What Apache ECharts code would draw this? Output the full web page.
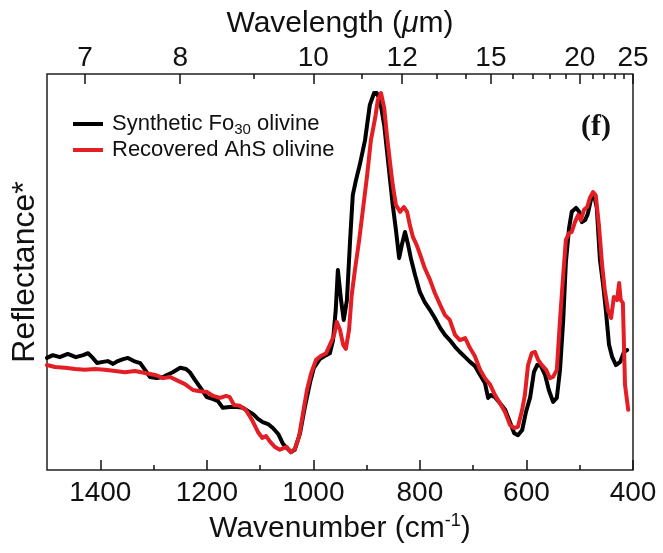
<!DOCTYPE html>
<html>
<head>
<meta charset="utf-8">
<script src="https://cdn.jsdelivr.net/npm/echarts@6/dist/echarts.min.js"></script>
<style>
  html, body { margin: 0; padding: 0; background: #fff; }
  #chart { width: 663px; height: 553px; }
</style>
</head>
<body>
<div id="chart"></div>
<script>
// Wavenumber axis ticks (cm-1), bottom
const wavenumberTicks = [400, 600, 800, 1000, 1200, 1400];
const wavenumberMinorTicks = [500, 700, 900, 1100, 1300];
// Wavelength axis ticks (um), top
const wavelengthTicks = [7, 8, 10, 12, 15, 20, 25];
const wavelengthMinorTicks = [9, 11, 13, 14, 16, 17, 18, 19, 21, 22, 23, 24];

const seriesNames = ['Synthetic Fo30 olivine', 'Recovered AhS olivine'];

// [wavenumber, reflectance (arbitrary units)]
const synthetic = [
  [1500, 28.3], [1489, 29.0], [1476, 28.5], [1461, 29.3], [1446, 28.5], [1432, 29.0],
  [1423, 29.5], [1414, 28.3], [1406, 27.0], [1395, 27.3], [1386, 27.5], [1376, 26.8],
  [1367, 27.5], [1357, 28.0], [1348, 28.3], [1337, 27.5], [1325, 27.0], [1316, 25.3],
  [1307, 23.5], [1294, 23.2], [1282, 23.5], [1275, 24.0], [1264, 24.7], [1250, 25.8],
  [1239, 25.5], [1232, 24.7], [1222, 22.7], [1213, 21.0], [1200, 18.4], [1188, 17.9],
  [1179, 17.4], [1170, 15.7], [1157, 15.9], [1143, 15.9], [1132, 15.7], [1123, 14.9],
  [1113, 14.1], [1104, 12.9], [1095, 12.1], [1085, 11.6], [1076, 10.6], [1066, 9.1],
  [1057, 6.6], [1050, 5.6], [1042, 4.5], [1035, 5.1], [1025, 9.3], [1016, 15.9],
  [1006, 22.2], [999, 25.8], [988, 28.0], [976, 29.0], [969, 29.5], [963, 32.8],
  [958, 40.4], [954, 50.5], [948, 42.9], [943, 37.9], [937, 42.9], [931, 58.1],
  [926, 69.4], [920, 73.2], [913, 77.0], [903, 83.3], [894, 92.2], [886, 95.2],
  [881, 95.2], [875, 93.4], [867, 87.1], [862, 80.8], [856, 73.2], [851, 66.9],
  [845, 60.6], [839, 53.5], [834, 56.8], [828, 60.1], [822, 56.8], [817, 53.5],
  [809, 49.2], [800, 44.9], [791, 42.4], [781, 40.4], [772, 38.4], [762, 35.9],
  [753, 34.1], [744, 32.8], [734, 31.1], [725, 29.8], [715, 28.5], [706, 27.3],
  [697, 26.3], [687, 24.0], [678, 22.0], [672, 18.2], [667, 18.9], [659, 18.4],
  [650, 16.9], [640, 15.2], [631, 12.1], [623, 9.3], [616, 8.8], [608, 10.1],
  [601, 14.6], [593, 18.4], [586, 24.7], [580, 26.5], [573, 26.3], [565, 24.0],
  [558, 20.2], [550, 17.2], [543, 18.2], [537, 25.3], [531, 37.9], [526, 52.5],
  [520, 61.1], [515, 65.2], [507, 66.2], [501, 65.2], [496, 62.6], [490, 63.1],
  [485, 64.6], [479, 68.2], [473, 69.4], [468, 66.2], [462, 53.0], [456, 46.7],
  [451, 40.4], [445, 31.6], [439, 28.5], [432, 26.5], [424, 27.3], [417, 29.8],
  [411, 30.3]
];

const recovered = [
  [1500, 26.5], [1485, 26.0], [1466, 25.8], [1447, 25.5], [1429, 25.3], [1410, 25.5],
  [1391, 25.3], [1372, 25.0], [1354, 24.7], [1335, 25.0], [1316, 24.5], [1297, 24.0],
  [1282, 23.2], [1269, 23.5], [1254, 22.5], [1241, 21.7], [1226, 20.2], [1213, 19.9],
  [1200, 19.7], [1188, 18.7], [1175, 18.2], [1164, 18.7], [1157, 18.4], [1149, 16.4],
  [1138, 16.2], [1127, 15.2], [1115, 12.6], [1104, 9.6], [1096, 8.1], [1089, 8.6],
  [1081, 7.1], [1072, 5.8], [1063, 5.1], [1055, 5.6], [1050, 5.8], [1042, 4.5],
  [1035, 5.3], [1027, 8.3], [1020, 13.9], [1012, 20.2], [1004, 24.5], [995, 27.8],
  [986, 28.8], [976, 29.5], [969, 31.6], [961, 34.1], [956, 37.4], [950, 35.4],
  [944, 31.6], [939, 30.6], [933, 35.4], [928, 44.2], [922, 50.5], [914, 58.1],
  [907, 65.7], [899, 74.5], [892, 83.3], [884, 88.9], [879, 93.4], [873, 95.2],
  [867, 91.4], [862, 84.6], [856, 77.5], [851, 72.0], [845, 66.9], [837, 65.2],
  [830, 66.4], [824, 65.2], [819, 61.9], [813, 58.8], [806, 56.8], [798, 53.8],
  [791, 51.0], [781, 48.0], [772, 44.7], [762, 41.7], [753, 39.1], [744, 37.9],
  [734, 34.1], [725, 32.8], [715, 33.3], [706, 30.8], [697, 28.8], [687, 25.3],
  [678, 23.2], [668, 21.5], [659, 18.9], [650, 16.9], [640, 14.6], [631, 11.4],
  [623, 10.6], [616, 10.9], [608, 15.2], [603, 18.9], [597, 26.5], [590, 29.5],
  [584, 29.8], [578, 27.8], [571, 26.5], [563, 25.3], [556, 23.2], [550, 23.5],
  [543, 25.3], [537, 37.9], [531, 49.2], [526, 58.1], [520, 59.8], [515, 60.1],
  [509, 62.6], [503, 64.4], [498, 63.1], [492, 65.7], [486, 66.4], [481, 68.7],
  [475, 70.2], [470, 69.4], [464, 61.9], [458, 51.8], [453, 45.5], [447, 40.4],
  [441, 38.4], [436, 43.7], [430, 42.9], [426, 47.2], [423, 42.9], [419, 42.2],
  [415, 21.5], [409, 15.2]
];

const FONT = '"Liberation Sans", Arial, Helvetica, sans-serif';
const INK = '#111';

// wavelength (um) -> wavenumber (cm-1)
const toWavenumber = (um) => 10000 / um;

function xAxisBase(position) {
  return {
    type: 'value',
    position: position,
    min: 400,
    max: 1500,
    inverse: true,
    splitLine: { show: false },
    axisLine: { show: false }
  };
}

const chart = echarts.init(document.getElementById('chart'), null, { renderer: 'canvas' });

chart.setOption({
  animation: false,
  backgroundColor: '#fff',
  grid: {
    left: 47, right: 30, top: 74, bottom: 83,
    containLabel: false,
    outerBoundsMode: 'none',
    show: true,
    borderColor: '#222',
    borderWidth: 1.5
  },
  legend: {
    orient: 'vertical',
    left: 68,
    top: 108,
    itemWidth: 30,
    itemHeight: 4,
    itemGap: 2,
    icon: 'rect',
    data: seriesNames,
    formatter: (name) => name === seriesNames[0]
      ? '{t|Synthetic Fo}{s|30}{t| olivine}'
      : '{t|' + name + '}',
    textStyle: {
      padding: [0, 0, 0, 4],
      rich: {
        t: { fontSize: 22, fontFamily: FONT, color: INK, lineHeight: 26 },
        s: { fontSize: 15, fontFamily: FONT, color: INK, lineHeight: 12, verticalAlign: 'bottom' }
      }
    }
  },
  xAxis: [
    Object.assign(xAxisBase('bottom'), {
      name: '{a|Wavenumber (cm}{b|-1}{a|)}',
      nameLocation: 'middle',
      nameGap: 40,
      nameTextStyle: {
        rich: {
          a: { fontSize: 30, fontFamily: FONT, color: INK, lineHeight: 33 },
          b: { fontSize: 18, fontFamily: FONT, color: INK, lineHeight: 18, verticalAlign: 'top' }
        }
      },
      axisTick: { show: true, inside: true, length: 10, customValues: wavenumberTicks,
        lineStyle: { color: INK, width: 1.5 } },
      axisLabel: { show: true, customValues: wavenumberTicks, margin: 9,
        fontSize: 28, fontFamily: FONT, color: INK,
        formatter: (v) => String(Math.round(v)) }
    }),
    Object.assign(xAxisBase('bottom'), {
      axisTick: { show: true, inside: true, length: 5, customValues: wavenumberMinorTicks,
        lineStyle: { color: INK, width: 1.5 } },
      axisLabel: { show: false }
    }),
    Object.assign(xAxisBase('top'), {
      name: '{a|Wavelength (}{i|μ}{a|m)}',
      nameLocation: 'middle',
      nameGap: 31,
      nameTextStyle: {
        rich: {
          a: { fontSize: 30, fontFamily: FONT, color: INK },
          i: { fontSize: 30, fontFamily: FONT, color: INK, fontStyle: 'italic' }
        }
      },
      axisTick: { show: true, inside: true, length: 10,
        customValues: wavelengthTicks.map(toWavenumber),
        lineStyle: { color: INK, width: 1.5 } },
      axisLabel: { show: true, customValues: wavelengthTicks.map(toWavenumber), margin: 2,
        fontSize: 28, fontFamily: FONT, color: INK,
        formatter: (v) => String(Math.round(10000 / v)) }
    }),
    Object.assign(xAxisBase('top'), {
      axisTick: { show: true, inside: true, length: 5,
        customValues: wavelengthMinorTicks.map(toWavenumber),
        lineStyle: { color: INK, width: 1.5 } },
      axisLabel: { show: false }
    })
  ],
  yAxis: {
    type: 'value',
    min: 0,
    max: 100,
    name: 'Reflectance*',
    nameLocation: 'middle',
    nameGap: 6,
    nameRotate: 90,
    nameTextStyle: { fontSize: 32, fontFamily: FONT, color: INK },
    axisLine: { show: false },
    axisTick: { show: false },
    axisLabel: { show: false },
    splitLine: { show: false }
  },
  graphic: [{
    type: 'text',
    right: 52,
    top: 112,
    style: {
      text: '(f)',
      font: 'bold 30px "Liberation Serif", "Times New Roman", serif',
      fill: INK
    }
  }],
  series: [
    {
      name: seriesNames[0],
      type: 'line',
      xAxisIndex: 0,
      data: synthetic,
      showSymbol: false,
      lineStyle: { color: '#000', width: 4, join: 'round', cap: 'round' },
      itemStyle: { color: '#000' },
      z: 2
    },
    {
      name: seriesNames[1],
      type: 'line',
      xAxisIndex: 0,
      data: recovered,
      showSymbol: false,
      lineStyle: { color: '#e31e24', width: 4, join: 'round', cap: 'round' },
      itemStyle: { color: '#e31e24' },
      z: 3
    }
  ]
});
</script>
</body>
</html>
